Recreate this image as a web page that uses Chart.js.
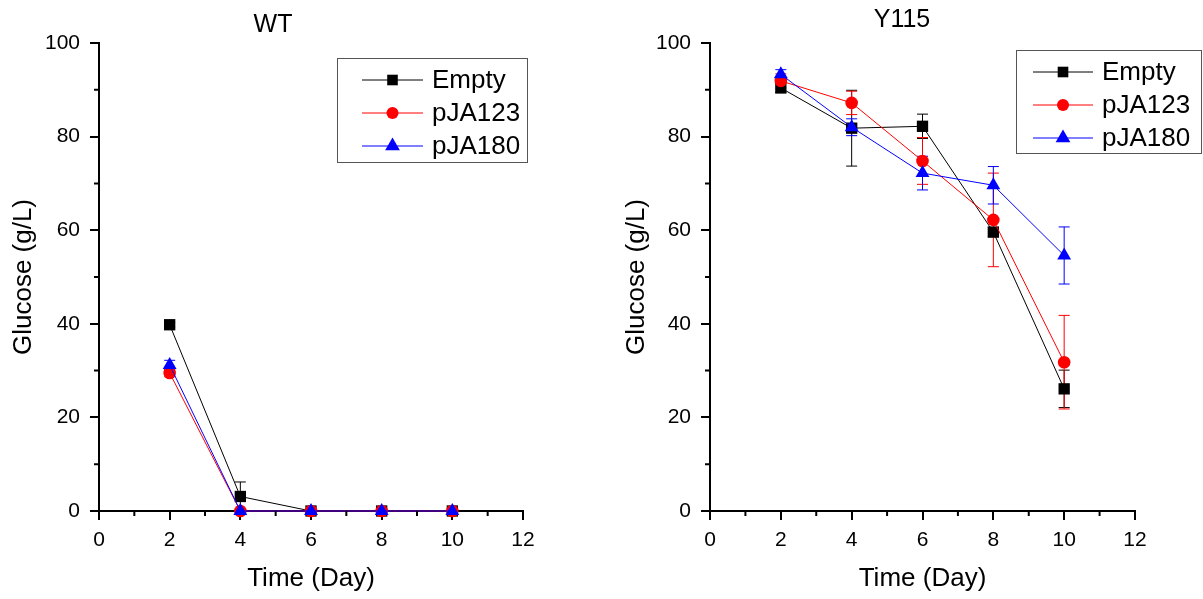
<!DOCTYPE html>
<html lang="en">
<head>
<meta charset="UTF-8">
<title>Glucose over time</title>
<script src="https://cdn.jsdelivr.net/npm/chart.js@4.4.0/dist/chart.umd.min.js"></script>
<style>
  body { margin: 0; background: #fff; }
  .panel { position: absolute; top: 0; }
</style>
</head>
<body>
<div class="panel" style="left:0"><canvas id="wt-chart" width="601" height="599"></canvas></div>
<div class="panel" style="left:601px"><canvas id="y115-chart" width="602" height="599"></canvas></div>

<script>
// ---- data ----
var days = [2, 4, 6, 8, 10];
var seriesNames = ['Empty', 'pJA123', 'pJA180'];
var xTicks = [0, 2, 4, 6, 8, 10, 12];
var xMinorTicks = [1, 3, 5, 7, 9, 11];
var yTicks = [0, 20, 40, 60, 80, 100];
var yMinorTicks = [10, 30, 50, 70, 90];

// WT
var wtEmpty = [39.8, 3.1, 0, 0, 0];
var wtEmptyErr = [0.5, 3.1, 0, 0, 0];
var wtPJA123 = [29.5, 0, 0, 0, 0];
var wtPJA123Err = [0.8, 0, 0, 0, 0];
var wtPJA180 = [31.2, 0, 0, 0, 0];
var wtPJA180Err = [1.0, 0, 0, 0, 0];

// Y115
var yEmpty = [90.4, 81.8, 82.2, 59.6, 26.1];
var yEmptyErr = [1.0, 8.1, 2.6, 1.0, 4.0];
var yPJA123 = [91.9, 87.2, 74.8, 62.2, 31.8];
var yPJA123Err = [1.5, 2.5, 5.0, 10.0, 10.0];
var yPJA180 = [93.3, 82.0, 72.2, 69.6, 54.6];
var yPJA180Err = [1.0, 1.8, 3.6, 4.0, 6.1];

Chart.defaults.font.family = '"Liberation Sans", Arial, sans-serif';
Chart.defaults.color = '#000';

var styles = [
    { color: '#000000', pointStyle: 'rect', radius: 8, legendRadius: 7.5, order: 2 },
    { color: '#ff0000', pointStyle: 'circle', radius: 6.3, legendRadius: 6, order: 1 },
    { color: '#0000ff', pointStyle: 'triangle', radius: 8, legendRadius: 8.5, order: 0 }
];

function points(values) {
    return days.map(function (d, i) { return { x: d, y: values[i] }; });
}

function makeDatasets(valueSets, errSets) {
    return valueSets.map(function (vals, i) {
        var s = styles[i];
        return {
            label: seriesNames[i],
            data: points(vals),
            errors: errSets[i],
            borderColor: s.color,
            backgroundColor: s.color,
            pointBackgroundColor: s.color,
            pointStyle: s.pointStyle,
            pointRadius: s.radius,
            pointHoverRadius: s.radius,
            pointBorderWidth: 0,
            borderWidth: 1,
            tension: 0,
            clip: false,
            order: s.order,
            legendRadius: s.legendRadius
        };
    });
}

// error bars, drawn under the markers
var errorBars = {
    id: 'errorBars',
    beforeDatasetsDraw: function (chart) {
        var ctx = chart.ctx, x = chart.scales.x, y = chart.scales.y;
        ctx.save();
        ctx.lineWidth = 1;
        chart.data.datasets.forEach(function (ds) {
            if (!ds.errors) return;
            ctx.strokeStyle = ds.borderColor;
            ds.data.forEach(function (p, i) {
                var e = ds.errors[i];
                if (!e) return;
                var px = x.getPixelForValue(p.x);
                var top = y.getPixelForValue(p.y + e);
                var bot = y.getPixelForValue(Math.max(0, p.y - e));
                ctx.beginPath();
                ctx.moveTo(px, top); ctx.lineTo(px, bot);
                ctx.moveTo(px - 5.5, top); ctx.lineTo(px + 5.5, top);
                ctx.moveTo(px - 5.5, bot); ctx.lineTo(px + 5.5, bot);
                ctx.stroke();
            });
        });
        ctx.restore();
    }
};

// minor tick marks
var minorTicks = {
    id: 'minorTicks',
    afterDraw: function (chart) {
        var ctx = chart.ctx, area = chart.chartArea, x = chart.scales.x, y = chart.scales.y;
        ctx.save();
        ctx.strokeStyle = '#000';
        ctx.lineWidth = 2;
        ctx.beginPath();
        xMinorTicks.forEach(function (v) {
            var px = x.getPixelForValue(v);
            ctx.moveTo(px, area.bottom); ctx.lineTo(px, area.bottom + 5);
        });
        yMinorTicks.forEach(function (v) {
            var py = y.getPixelForValue(v);
            ctx.moveTo(area.left, py); ctx.lineTo(area.left - 5, py);
        });
        ctx.stroke();
        ctx.restore();
    }
};

// boxed legend with line + marker, and panel title
var panelDecor = {
    id: 'panelDecor',
    afterDraw: function (chart, args, opts) {
        var ctx = chart.ctx;
        ctx.save();
        // title
        ctx.fillStyle = '#000';
        ctx.font = '25px "Liberation Sans", Arial, sans-serif';
        ctx.textAlign = 'center';
        ctx.textBaseline = 'alphabetic';
        ctx.fillText(opts.title, opts.titleX, opts.titleY);

        // legend box
        var b = opts.legend;
        ctx.strokeStyle = '#555';
        ctx.lineWidth = 1;
        ctx.strokeRect(b.left + 0.5, b.top + 0.5, b.width, b.height);
        ctx.font = '26px "Liberation Sans", Arial, sans-serif';
        ctx.textAlign = 'left';
        ctx.textBaseline = 'middle';
        chart.data.datasets.forEach(function (ds, i) {
            var ry = b.rowY[i];
            ctx.strokeStyle = ds.borderColor;
            ctx.beginPath();
            ctx.moveTo(b.lineX0, ry); ctx.lineTo(b.lineX1, ry);
            ctx.stroke();
            ctx.fillStyle = ds.borderColor;
            Chart.helpers.drawPoint(ctx, { pointStyle: ds.pointStyle, radius: ds.legendRadius, borderWidth: 0, rotation: 0 },
                (b.lineX0 + b.lineX1) / 2, ry);
            ctx.fillStyle = '#000';
            ctx.fillText(ds.label, b.textX, ry + 1);
        });
        ctx.restore();
    }
};

function makeScales(yAxisWidth, yTitlePad) {
    return {
        x: {
            type: 'linear', min: 0, max: 12,
            afterBuildTicks: function (s) { s.ticks = xTicks.map(function (v) { return { value: v }; }); },
            ticks: { font: { size: 21 }, padding: 8, maxRotation: 0, color: '#000' },
            grid: { drawOnChartArea: false, tickLength: 9, color: '#000', lineWidth: 2 },
            border: { color: '#000', width: 2 },
            title: { display: true, text: 'Time (Day)', font: { size: 26 }, color: '#000', padding: { top: 0, bottom: 5 } },
            afterFit: function (s) { s.height = 88; }
        },
        y: {
            type: 'linear', min: 0, max: 100,
            afterBuildTicks: function (s) { s.ticks = yTicks.map(function (v) { return { value: v }; }); },
            ticks: { font: { size: 21 }, padding: 10, color: '#000' },
            grid: { drawOnChartArea: false, tickLength: 9, color: '#000', lineWidth: 2 },
            border: { color: '#000', width: 2 },
            title: { display: true, text: 'Glucose (g/L)', font: { size: 26 }, color: '#000', padding: { top: yTitlePad, bottom: 0 } },
            afterFit: function (s) { s.width = yAxisWidth; }
        }
    };
}

function makeChart(id, datasets, cfg) {
    return new Chart(document.getElementById(id).getContext('2d'), {
        type: 'line',
        data: { datasets: datasets },
        options: {
            responsive: false,
            animation: false,
            devicePixelRatio: 1,
            layout: { padding: { left: 0, top: 43, right: cfg.padRight, bottom: 0 } },
            scales: makeScales(cfg.yAxisWidth, cfg.yTitlePad),
            plugins: {
                legend: { display: false },
                tooltip: { enabled: false },
                panelDecor: {
                    title: cfg.title, titleX: cfg.titleX, titleY: cfg.titleY,
                    legend: cfg.legend
                }
            }
        },
        plugins: [errorBars, minorTicks, panelDecor]
    });
}

makeChart('wt-chart',
    makeDatasets([wtEmpty, wtPJA123, wtPJA180], [wtEmptyErr, wtPJA123Err, wtPJA180Err]),
    {
        yAxisWidth: 99, yTitlePad: 8, padRight: 78,
        title: 'WT', titleX: 273, titleY: 32,
        legend: { left: 337, top: 58, width: 190, height: 104, lineX0: 362, lineX1: 423, textX: 432, rowY: [80, 113, 146] }
    });

makeChart('y115-chart',
    makeDatasets([yEmpty, yPJA123, yPJA180], [yEmptyErr, yPJA123Err, yPJA180Err]),
    {
        yAxisWidth: 109, yTitlePad: 20, padRight: 68,
        title: 'Y115', titleX: 301, titleY: 27,
        legend: { left: 415, top: 50, width: 185, height: 103, lineX0: 432, lineX1: 492, textX: 501, rowY: [72, 105, 138] }
    });
</script>
</body>
</html>
